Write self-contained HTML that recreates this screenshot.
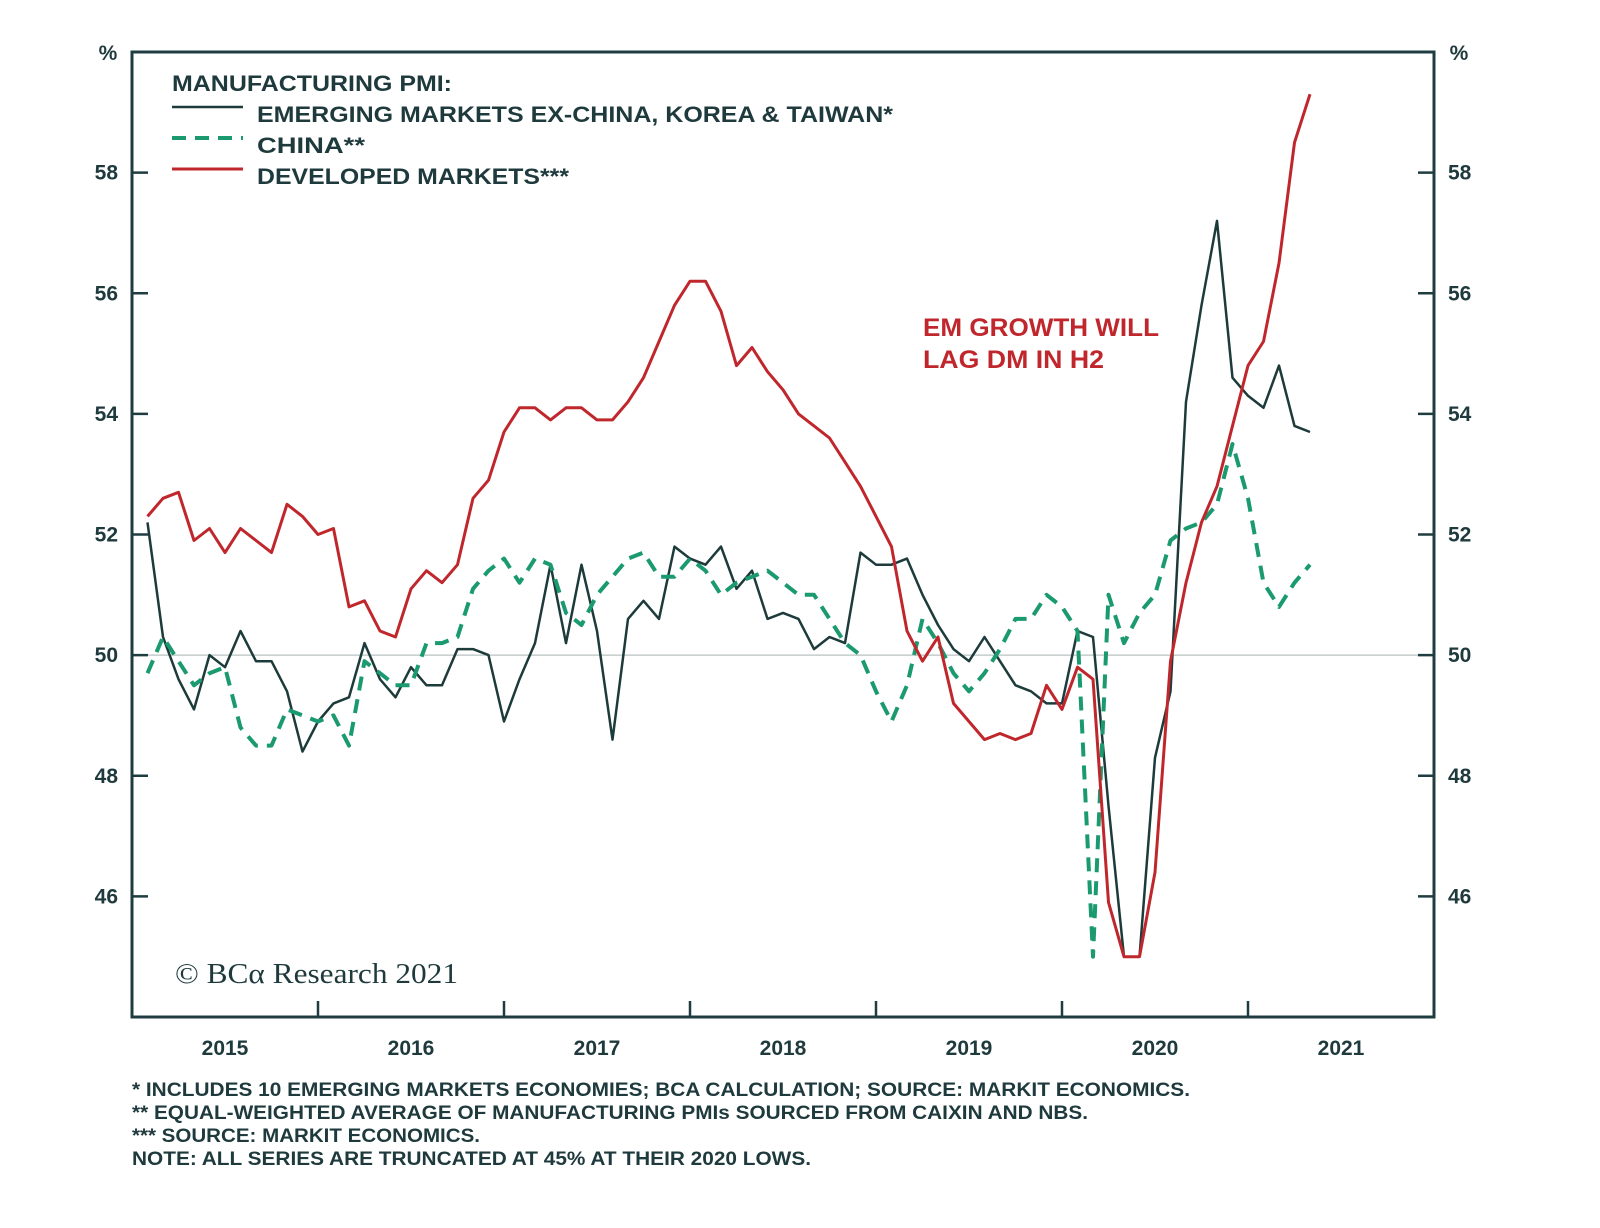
<!DOCTYPE html>
<html><head><meta charset="utf-8"><style>
body{margin:0;background:#fff;width:1600px;height:1228px;overflow:hidden}
svg{display:block}
text{font-family:"Liberation Sans",sans-serif;font-weight:bold;fill:#1f3a3d}
</style></head><body>
<svg id="chart" width="1600" height="1228">
<g id="axes"></g>
<g id="series"></g>
<g>
<text x="172" y="91" font-size="22" textLength="280" lengthAdjust="spacingAndGlyphs">MANUFACTURING PMI:</text>
<line x1="172" y1="107" x2="243" y2="107" stroke="#1d3b3b" stroke-width="2.5"/>
<text x="257" y="122" font-size="22" textLength="636" lengthAdjust="spacingAndGlyphs">EMERGING MARKETS EX-CHINA, KOREA &amp; TAIWAN*</text>
<line x1="172" y1="138" x2="243" y2="138" stroke="#1a9a6e" stroke-width="4" stroke-dasharray="14,9"/>
<text x="257" y="153" font-size="22" textLength="108" lengthAdjust="spacingAndGlyphs">CHINA**</text>
<line x1="172" y1="169" x2="243" y2="169" stroke="#c0272d" stroke-width="3"/>
<text x="257" y="184" font-size="22" textLength="312" lengthAdjust="spacingAndGlyphs">DEVELOPED MARKETS***</text>
</g>
<text x="923" y="336" font-size="25" textLength="236" lengthAdjust="spacingAndGlyphs" style="fill:#c0272d">EM GROWTH WILL</text>
<text x="923" y="368" font-size="25" textLength="181" lengthAdjust="spacingAndGlyphs" style="fill:#c0272d">LAG DM IN H2</text>
<text x="175" y="983" font-size="28" textLength="283" lengthAdjust="spacingAndGlyphs" style="font-family:'Liberation Serif',serif;font-weight:normal">© BCα Research 2021</text>
<g>
<text x="132" y="1096" font-size="19" textLength="1058" lengthAdjust="spacingAndGlyphs">*   INCLUDES 10 EMERGING MARKETS ECONOMIES; BCA CALCULATION; SOURCE: MARKIT ECONOMICS.</text>
<text x="132" y="1119" font-size="19" textLength="956" lengthAdjust="spacingAndGlyphs">**  EQUAL-WEIGHTED AVERAGE OF MANUFACTURING PMIs SOURCED FROM CAIXIN AND NBS.</text>
<text x="132" y="1142" font-size="19" textLength="348" lengthAdjust="spacingAndGlyphs">*** SOURCE: MARKIT ECONOMICS.</text>
<text x="132" y="1165" font-size="19" textLength="679" lengthAdjust="spacingAndGlyphs">NOTE: ALL SERIES ARE TRUNCATED AT 45% AT THEIR 2020 LOWS.</text>
</g>
</svg>
<script>
const years=["2015","2016","2017","2018","2019","2020","2021"];
const yTicks=[46,48,50,52,54,56,58];
const dm=[52.3,52.6,52.7,51.9,52.1,51.7,52.1,51.9,51.7,52.5,52.3,52.0,52.1,50.8,50.9,50.4,50.3,51.1,51.4,51.2,51.5,52.6,52.9,53.7,54.1,54.1,53.9,54.1,54.1,53.9,53.9,54.2,54.6,55.2,55.8,56.2,56.2,55.7,54.8,55.1,54.7,54.4,54.0,53.8,53.6,53.2,52.8,52.3,51.8,50.4,49.9,50.3,49.2,48.9,48.6,48.7,48.6,48.7,49.5,49.1,49.8,49.6,45.9,45.0,45.0,46.4,49.9,51.2,52.2,52.8,53.8,54.8,55.2,56.5,58.5,59.3];
const em=[52.2,50.3,49.6,49.1,50.0,49.8,50.4,49.9,49.9,49.4,48.4,48.9,49.2,49.3,50.2,49.6,49.3,49.8,49.5,49.5,50.1,50.1,50.0,48.9,49.6,50.2,51.5,50.2,51.5,50.4,48.6,50.6,50.9,50.6,51.8,51.6,51.5,51.8,51.1,51.4,50.6,50.7,50.6,50.1,50.3,50.2,51.7,51.5,51.5,51.6,51.0,50.5,50.1,49.9,50.3,49.9,49.5,49.4,49.2,49.2,50.4,50.3,47.5,45.0,45.0,48.3,49.4,54.2,55.8,57.2,54.6,54.3,54.1,54.8,53.8,53.7];
const china=[49.7,50.3,49.9,49.5,49.7,49.8,48.8,48.5,48.5,49.1,49.0,48.9,49.0,48.5,49.9,49.7,49.5,49.5,50.2,50.2,50.3,51.1,51.4,51.6,51.2,51.6,51.5,50.7,50.5,51.0,51.3,51.6,51.7,51.3,51.3,51.6,51.4,51.0,51.2,51.3,51.4,51.2,51.0,51.0,50.6,50.2,50.0,49.4,48.9,49.5,50.6,50.2,49.7,49.4,49.7,50.1,50.6,50.6,51.0,50.8,50.4,45.0,51.0,50.2,50.7,51.0,51.9,52.1,52.2,52.5,53.5,52.6,51.2,50.8,51.2,51.5];
const L=132,R=1434,T=52,B=1017,Y0=44,Y1=60,startMonth=1;
const mw=(R-L)/(years.length*12);
const xs=m=>L+(m+startMonth)*mw;
const ys=v=>B-(v-Y0)/(Y1-Y0)*(B-T);
const NS="http://www.w3.org/2000/svg";
function mk(tag,attrs,parent){const e=document.createElementNS(NS,tag);for(const k in attrs)e.setAttribute(k,attrs[k]);parent.appendChild(e);return e;}
const ax=document.getElementById('axes');
const g50=mk('line',{x1:L,x2:R,y1:ys(50),y2:ys(50),stroke:'#b8c2c2','stroke-width':1.2},ax);


const fr=mk('rect',{x:L,y:T,width:R-L,height:B-T,fill:'none',stroke:'#1f3d40','stroke-width':3},ax);


yTicks.forEach(v=>{
 const y=ys(v);
 mk('line',{x1:L,x2:L+16,y1:y,y2:y,stroke:'#1f3d40','stroke-width':2.5},ax);
 mk('line',{x1:R-16,x2:R,y1:y,y2:y,stroke:'#1f3d40','stroke-width':2.5},ax);
 const t1=mk('text',{x:118,y:y+7,'text-anchor':'end','font-size':21},ax);t1.textContent=v;
 
 
 const t2=mk('text',{x:1448,y:y+7,'font-size':21},ax);t2.textContent=v;
 
 
});
const p1=mk('text',{x:108,y:60,'text-anchor':'middle','font-size':21},ax);p1.textContent='%';


const p2=mk('text',{x:1459,y:60,'text-anchor':'middle','font-size':21},ax);p2.textContent='%';


years.forEach((yr,i)=>{
 const x0=L+i*12*mw;
 if(i>0) mk('line',{x1:x0,x2:x0,y1:B-16,y2:B,stroke:'#1f3d40','stroke-width':2.5},ax);
 const t=mk('text',{x:x0+6*mw,y:1055,'text-anchor':'middle','font-size':21},ax);t.textContent=yr;
 
 
});
const sg=document.getElementById('series');
function line(arr,st,name){
 const d=arr.map((v,i)=>(i?'L':'M')+xs(i).toFixed(1)+','+ys(v).toFixed(1)).join('');
 const p=mk('path',Object.assign({d:d,fill:'none','stroke-linejoin':'round'},st),sg);
 
 
}
line(em,{stroke:'#1d3b3b','stroke-width':2.5},'em-line');
line(china,{stroke:'#1a9a6e','stroke-width':4,'stroke-dasharray':'14,9'},'china-line');
line(dm,{stroke:'#c0272d','stroke-width':3},'dm-line');
</script>
</body></html>
